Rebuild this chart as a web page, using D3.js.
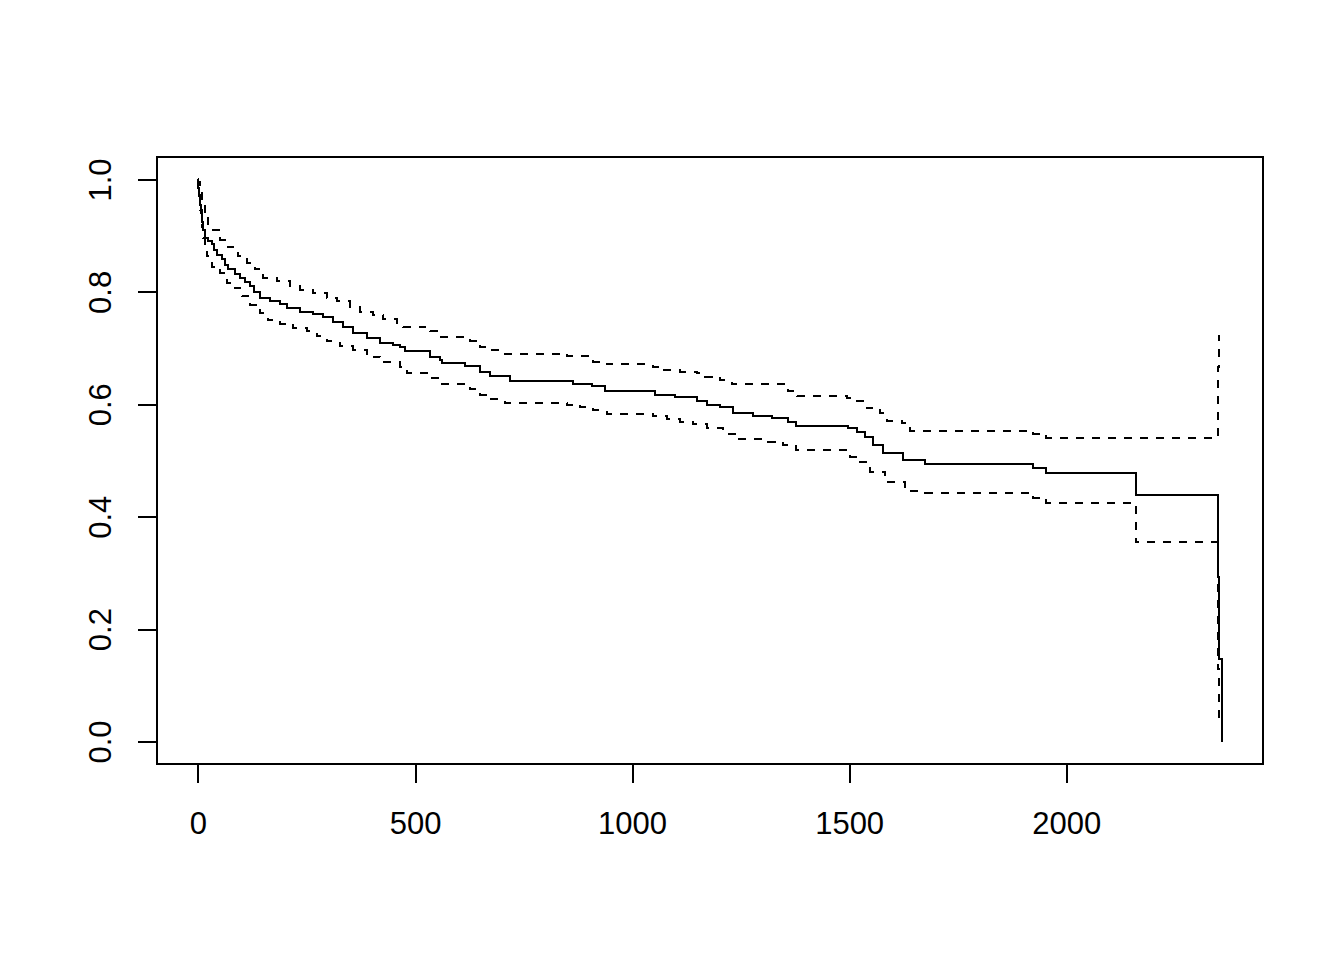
<!DOCTYPE html>
<html>
<head>
<meta charset="utf-8">
<script src="https://cdn.jsdelivr.net/npm/d3@7"></script>
<style>
  html, body { margin: 0; padding: 0; background: #fff; }
  svg { display: block; }
</style>
</head>
<body>
<svg id="chart" width="1344" height="960"></svg>
<script>
// Kaplan-Meier estimate (step start times, survival)
const survTime = [0,1,2,4,6,9,12,16,24,32,36,45,55,62,70,85,97,108,120,130,143,166,189,204,235,265,288,311,334,357,389,419,449,465,477,535,558,562,615,650,673,719,864,907,938,1053,1099,1150,1172,1203,1233,1279,1322,1360,1378,1498,1518,1537,1556,1579,1625,1675,1924,1954,2160,2349,2353,2359];
const survEst = [1,0.985,0.97,0.955,0.94,0.925,0.91,0.895,0.89,0.885,0.875,0.866,0.858,0.848,0.84,0.832,0.825,0.818,0.81,0.8,0.789,0.783,0.779,0.771,0.765,0.761,0.756,0.746,0.738,0.727,0.718,0.709,0.706,0.702,0.694,0.685,0.679,0.674,0.668,0.658,0.651,0.642,0.636,0.632,0.624,0.617,0.6126,0.606,0.599,0.595,0.584,0.579,0.575,0.569,0.5615,0.557,0.551,0.541,0.528,0.513,0.501,0.494,0.4866,0.4783,0.4385,0.293,0.147,0];

// Upper confidence limit
const upperTime = [0,1,4,9,16,24,32,51,69,92,113,131,150,182,212,235,265,297,320,350,373,403,426,459,472,523,535,558,627,650,673,707,850,910,942,1048,1071,1111,1150,1168,1203,1230,1360,1380,1495,1509,1541,1571,1587,1621,1641,1924,1954,2349,2353];
const upperEst = [1,0.995,0.98,0.96,0.935,0.92,0.911,0.893,0.879,0.863,0.852,0.84,0.825,0.819,0.81,0.804,0.798,0.789,0.783,0.774,0.765,0.759,0.751,0.744,0.738,0.733,0.7296,0.7196,0.713,0.7017,0.696,0.69,0.6855,0.676,0.671,0.667,0.661,0.658,0.655,0.649,0.643,0.636,0.623,0.614,0.611,0.605,0.593,0.584,0.571,0.566,0.553,0.548,0.5407,0.667,0.724];

// Lower confidence limit
const lowerTime = [0,1,4,9,12,16,20,32,51,66,85,101,120,143,161,189,219,251,274,297,327,357,389,420,465,482,535,558,627,650,673,707,850,880,910,942,1048,1081,1111,1141,1173,1210,1242,1313,1348,1378,1502,1525,1548,1583,1629,1675,1924,1954,2160,2349,2353];
const lowerEst = [1,0.975,0.945,0.915,0.895,0.875,0.863,0.845,0.834,0.816,0.807,0.792,0.777,0.762,0.75,0.743,0.7356,0.73,0.721,0.712,0.703,0.697,0.685,0.675,0.666,0.655,0.646,0.636,0.627,0.617,0.609,0.603,0.599,0.595,0.589,0.583,0.579,0.573,0.569,0.565,0.557,0.548,0.538,0.5336,0.5276,0.5187,0.507,0.497,0.48,0.461,0.445,0.4426,0.434,0.4248,0.355,0.129,0.04];

const xTicks = [0, 500, 1000, 1500, 2000];
const yTicks = [0, 0.2, 0.4, 0.6, 0.8, 1.0];

const svg = d3.select("#chart");
const box = { left: 157, top: 157, right: 1263, bottom: 764 };

const xMax = d3.max(survTime);
const xPad = 0.04 * xMax;
const x = d3.scaleLinear().domain([-xPad, xMax + xPad]).range([box.left, box.right]);
const y = d3.scaleLinear().domain([-0.04, 1.04]).range([box.bottom, box.top]);

const line = d3.line().x(d => x(d[0])).y(d => y(d[1])).curve(d3.curveStepAfter);
const zip = (a, b) => a.map((v, i) => [v, b[i]]);

svg.append("path").datum(zip(upperTime, upperEst)).attr("d", line)
  .attr("fill", "none").attr("stroke", "#000").attr("stroke-width", 2)
  .attr("stroke-dasharray", "8,8").attr("shape-rendering", "crispEdges");
svg.append("path").datum(zip(lowerTime, lowerEst)).attr("d", line)
  .attr("fill", "none").attr("stroke", "#000").attr("stroke-width", 2)
  .attr("stroke-dasharray", "8,8").attr("shape-rendering", "crispEdges");
svg.append("path").datum(zip(survTime, survEst)).attr("d", line)
  .attr("fill", "none").attr("stroke", "#000").attr("stroke-width", 2)
  .attr("shape-rendering", "crispEdges");

// Box
svg.append("rect").attr("x", box.left).attr("y", box.top)
  .attr("width", box.right - box.left).attr("height", box.bottom - box.top)
  .attr("fill", "none").attr("stroke", "#000").attr("stroke-width", 2)
  .attr("shape-rendering", "crispEdges");

const font = "'Liberation Sans', Arial, sans-serif";

// X axis
const gx = svg.append("g").attr("transform", `translate(0,${box.bottom})`)
  .call(d3.axisBottom(x).tickValues(xTicks).tickFormat(d3.format("d")).tickSize(19).tickSizeOuter(0).tickPadding(29));
gx.select(".domain").remove();
gx.selectAll(".tick line").attr("stroke", "#000").attr("stroke-width", 2).attr("shape-rendering", "crispEdges");
gx.selectAll(".tick text").attr("font-family", font).attr("font-size", 31).attr("fill", "#000");

// Y axis
const gy = svg.append("g").attr("transform", `translate(${box.left},0)`)
  .call(d3.axisLeft(y).tickValues(yTicks).tickFormat(d3.format(".1f")).tickSize(19).tickSizeOuter(0));
gy.select(".domain").remove();
gy.selectAll(".tick line").attr("stroke", "#000").attr("stroke-width", 2).attr("shape-rendering", "crispEdges");
gy.selectAll(".tick text")
  .attr("font-family", font).attr("font-size", 31).attr("fill", "#000")
  .attr("x", null).attr("dy", null)
  .attr("text-anchor", "middle")
  .attr("transform", `translate(${111 - box.left},0) rotate(-90)`);
</script>
</body>
</html>
